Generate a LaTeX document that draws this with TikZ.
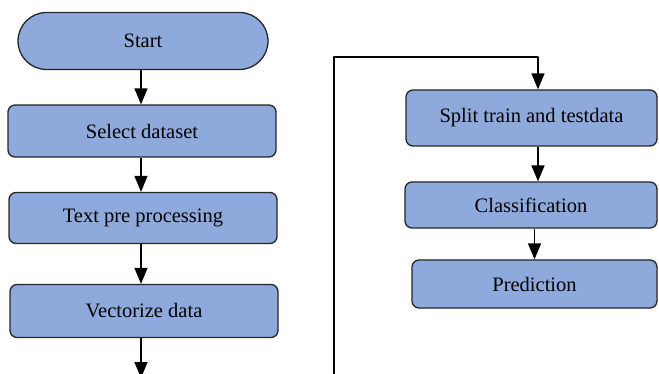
\documentclass[tikz,border=0pt]{standalone}
\usepackage{fontspec}
\setmainfont{Liberation Serif}
\usetikzlibrary{arrows.meta,shapes.misc}
\definecolor{boxblue}{RGB}{142,169,219}
\tikzset{
  box/.style={draw=black!85,line width=1.3pt,fill=boxblue,rounded corners=7pt,inner sep=0pt},
  flow/.style={-{Triangle[width=13pt,length=16pt]},line width=1.4pt}
}
\begin{document}
\begin{tikzpicture}[line join=round,x=1pt,y=-1pt,font=\fontsize{20.5}{24}\selectfont]
\clip (0,0) rectangle (659,374);
% left column
\node[draw=black!85,line width=1.3pt,fill=boxblue,rounded rectangle,minimum width=250pt,minimum height=57pt,inner sep=0pt] (start) at (143,41) {Start};
\node[box,minimum width=268pt,minimum height=52pt] (select) at (142,131) {Select dataset};
\node[box,minimum width=268pt,minimum height=51pt] (prepro) at (143,218) {Text pre processing};
\node[box,minimum width=268pt,minimum height=53pt] (vector) at (144,311) {Vectorize data};
% right column
\node[box,minimum width=251pt,minimum height=56pt] (split) at (531.5,118) {Split train and testdata};
\node[box,minimum width=252pt,minimum height=46pt] (classify) at (531,205) {Classification};
\node[box,minimum width=245pt,minimum height=48pt] (predict) at (534.5,284) {Prediction};
\path
(141,378) coordinate (out)
(334,380) coordinate (loop)
(538,57) coordinate (bend)
;
\draw[flow] (start.south -| out) -- (out |- select.north);
\draw[flow] (select.south -| out) -- (out |- prepro.north);
\draw[flow] (prepro.south -| out) -- (out |- vector.north);
\draw[flow] (vector.south -| out) -- (out);
\draw[flow] (loop) |- (bend) -- (bend |- split.north);
\draw[flow] (split.south -| bend) -- (bend |- classify.north);
\draw[flow] (classify.south -| predict) -- (predict.north);
\end{tikzpicture}
\end{document}
